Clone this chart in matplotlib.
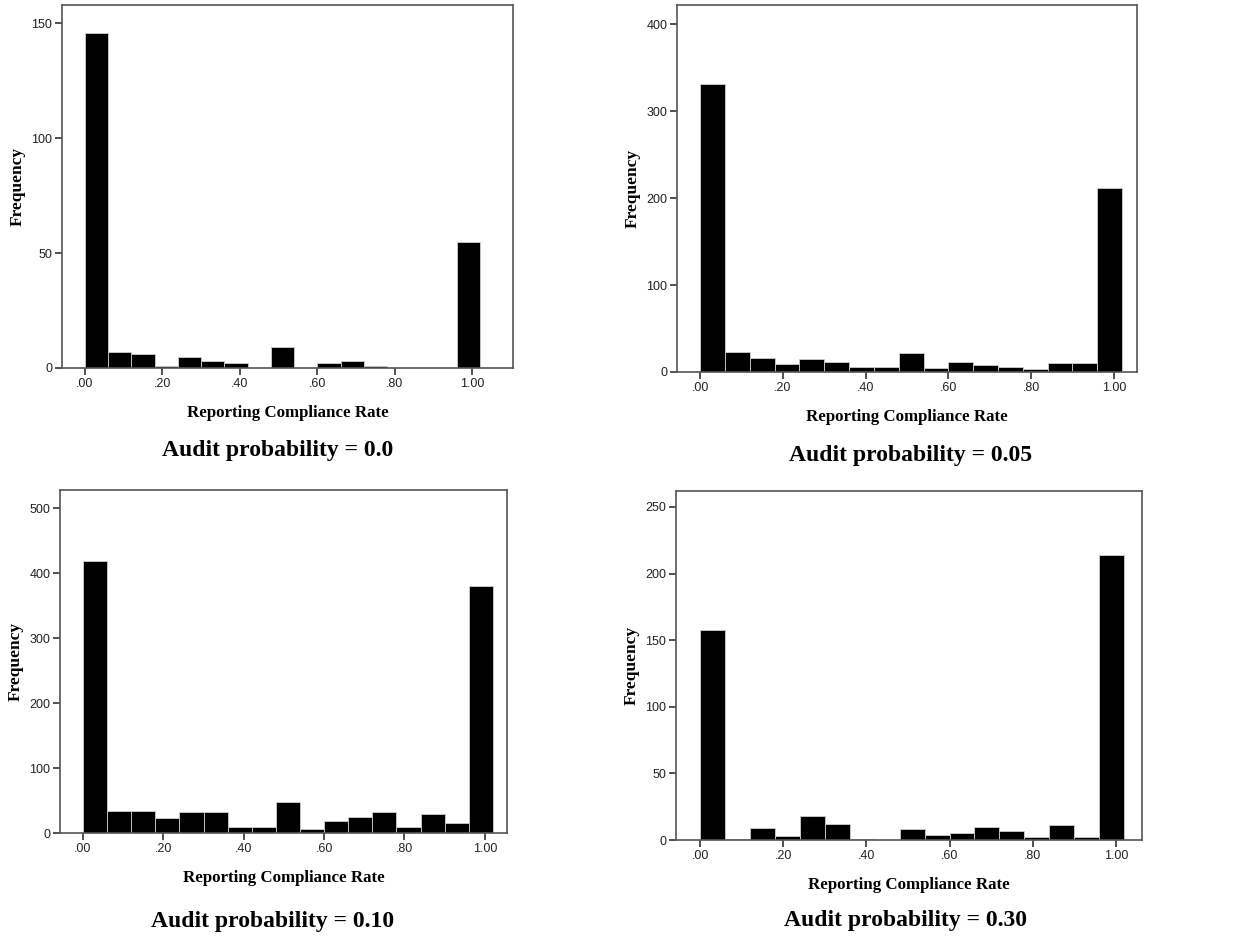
import numpy as np
from matplotlib import pyplot as plt
from matplotlib.ticker import FuncFormatter

# counts per bin (17 bins of width .06 starting at .00)
freq_00 = [146, 7, 6, 1, 5, 3, 2, 0, 9, 0, 2, 3, 1, 0, 0, 0, 55]
freq_05 = [331, 23, 16, 9, 15, 11, 6, 6, 22, 5, 11, 8, 6, 3, 10, 10, 211]
freq_10 = [418, 34, 34, 23, 32, 33, 9, 9, 47, 6, 18, 24, 32, 9, 30, 15, 380]
freq_30 = [158, 1, 9, 3, 18, 12, 1, 0, 8, 4, 5, 10, 7, 2, 11, 2, 214]

titles = ['Audit probability = 0.0', 'Audit probability = 0.05',
          'Audit probability = 0.10', 'Audit probability = 0.30']
y_ticks = [[0, 50, 100, 150], [0, 100, 200, 300, 400],
           [0, 100, 200, 300, 400, 500], [0, 50, 100, 150, 200, 250]]
y_tops = [158, 422, 528, 262]
x_ticks = [0.0, 0.2, 0.4, 0.6, 0.8, 1.0]

W, H = 1247, 938
bin_w = 0.06

# axes boxes in pixels: left, right, top, bottom
boxes = [(62, 513, 5, 368), (677, 1137, 5, 372),
         (60, 507, 490, 833), (676, 1142, 491, 840)]
x_lims = [(-0.059, 1.105), (-0.056, 1.056), (-0.057, 1.055), (-0.058, 1.063)]
# title positions in pixels (centre x, centre y)
title_pos = [(278, 450), (911, 455), (273, 921), (906, 920)]

fig = plt.figure(figsize=(W / 100, H / 100), dpi=100)

all_freq = [freq_00, freq_05, freq_10, freq_30]
for i in range(4):
    l, r, t, b = boxes[i]
    ax = fig.add_axes([l / W, 1 - b / H, (r - l) / W, (b - t) / H])
    counts = all_freq[i]
    lefts = np.arange(len(counts)) * bin_w
    ax.bar(lefts, counts, width=bin_w, align='edge', color='black',
           edgecolor='#cfcfcf', linewidth=0.6)
    ax.set_xlim(*x_lims[i])
    ax.set_ylim(0, y_tops[i])
    ax.set_yticks(y_ticks[i])
    ax.set_xticks(x_ticks)
    ax.xaxis.set_major_formatter(FuncFormatter(lambda v, p: '1.00' if v >= 0.999 else ('%.2f' % v)[1:]))
    for s in ax.spines.values():
        s.set_color('#555555')
        s.set_linewidth(1.2)
    ax.tick_params(direction='out', length=5, width=1.2, color='#333333',
                   labelsize=9, labelcolor='#222222', pad=2)
    for lab in ax.get_xticklabels() + ax.get_yticklabels():
        lab.set_family('Liberation Sans')
    ax.set_xlabel('Reporting Compliance Rate', family='Liberation Serif',
                  fontweight='bold', fontsize=12.2, labelpad=11)
    ax.set_ylabel('Frequency', family='Liberation Serif',
                  fontweight='bold', fontsize=12.5, labelpad=4)
    tx, ty = title_pos[i]
    fig.text(tx / W, 1 - ty / H, titles[i], family='Liberation Serif',
             fontweight='bold', fontsize=17, ha='center', va='center')

fig.savefig('out.png', dpi=100)
